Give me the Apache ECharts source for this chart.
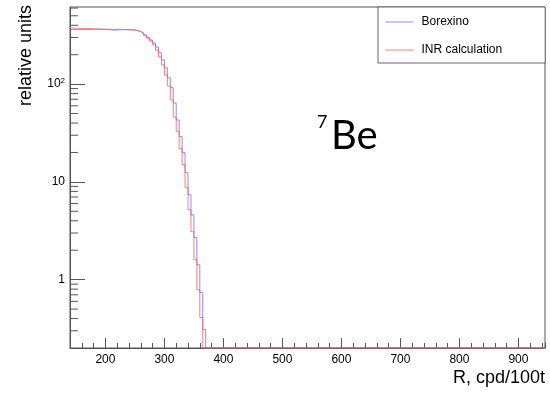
<!DOCTYPE html>
<html>
<head>
<meta charset="utf-8">
<script src="https://cdn.jsdelivr.net/npm/echarts@6/dist/echarts.min.js"></script>
<style>
  html, body { margin: 0; padding: 0; background: #fff; }
  #chart { width: 550px; height: 394px; }
</style>
</head>
<body>
<div id="chart"></div>
<script>
// Histogram binning (R, cpd/100t)
const binWidth = 5;
const firstEdge = 140;
const histUpperEdge = 945;

// Bin contents from firstEdge onward; every bin past the listed ones is empty
const borexino = [
  362, 362, 363, 362, 361, 362, 362, 364, 366, 363, 362,
  361, 360, 359, 356, 358, 360, 361, 360, 359, 358,
  358, 354, 346, 334, 318, 300, 283, 264, 240, 209,
  177, 147, 116, 92, 64, 43, 29, 19.9, 12.4, 7.4,
  4.6, 2.7, 1.42, 0.74, 0.31
];
const inrCalculation = [
  374, 373, 372, 372, 371, 370, 369, 368, 367, 367, 366,
  365, 365, 364, 363, 363, 363, 362, 362, 361, 360,
  358, 352, 343, 330, 312, 295, 275, 252, 222, 190,
  157, 124, 96, 69, 46, 33, 22, 15, 8.8, 5.2,
  3.1, 1.6, 0.79, 0.41
];

// Axis ranges and ticks
const xMin = 140, xMax = 945;
const yMin = 0.2, yMax = 615;
const yMinorTicks = [0.3, 0.4, 0.5, 0.6, 0.7, 0.8, 0.9,
                     2, 3, 4, 5, 6, 7, 8, 9,
                     20, 30, 40, 50, 60, 70, 80, 90,
                     200, 300, 400, 500, 600];

const axisColor = '#555';
const labelFont = 'Liberation Sans';
const blueLine = 'rgba(90,90,255,0.7)';
const redLine = 'rgba(255,90,90,0.8)';

// Step outline of a histogram; empty bins sit on the lower axis edge
function histogramPoints(values) {
  const pts = values.map((v, i) => [firstEdge + i * binWidth, v > 0 ? v : yMin]);
  pts.push([firstEdge + values.length * binWidth, yMin]);
  pts.push([histUpperEdge, yMin]);
  return pts;
}

function decadeLabel(value) {
  const e = Math.log10(value);
  const r = Math.round(e);
  if (Math.abs(e - r) > 1e-6) return '';
  if (r === 0) return '1';
  if (r === 1) return '10';
  return '{b|10}{s|' + r + '}';
}

const chart = echarts.init(document.getElementById('chart'), null, { renderer: 'canvas' });

chart.setOption({
  animation: false,
  backgroundColor: '#fff',
  grid: {
    left: 70, right: 5, top: 7, bottom: 46,
    show: true, borderColor: axisColor, borderWidth: 1, backgroundColor: 'transparent'
  },
  legend: {
    orient: 'vertical',
    left: 378, top: 7,
    padding: [9, 43, 7, 7],
    itemGap: 16,
    itemWidth: 28,
    itemHeight: 14,
    backgroundColor: '#fff',
    borderColor: '#666',
    borderWidth: 1,
    borderRadius: 0,
    itemStyle: { opacity: 0 },
    lineStyle: { width: 1 },
    textStyle: { fontFamily: labelFont, fontSize: 12, color: '#000', padding: [0, 0, 0, 3] },
    data: ['Borexino', 'INR calculation']
  },
  xAxis: [
    {
      type: 'value', min: xMin, max: xMax,
      minInterval: 100, maxInterval: 100,
      axisLine: { show: true, lineStyle: { color: axisColor, width: 1 } },
      axisTick: { show: true, inside: true, length: 10, lineStyle: { color: axisColor } },
      axisLabel: {
        showMinLabel: false, showMaxLabel: false, margin: 6,
        fontFamily: labelFont, fontSize: 12, color: '#000'
      },
      splitLine: { show: false }
    },
    {
      // fine ticks every 20
      type: 'value', min: xMin, max: xMax, interval: 20,
      position: 'bottom',
      axisLine: { show: false },
      axisTick: { show: true, inside: true, length: 5, lineStyle: { color: axisColor } },
      axisLabel: { show: false },
      splitLine: { show: false }
    }
  ],
  yAxis: {
    type: 'log', logBase: 10, min: yMin, max: yMax,
    axisLine: { show: true, lineStyle: { color: axisColor, width: 1 } },
    axisTick: { show: true, inside: true, length: 15, lineStyle: { color: axisColor } },
    axisLabel: {
      showMinLabel: false, showMaxLabel: false, margin: 5,
      fontFamily: labelFont, fontSize: 12, color: '#000',
      formatter: decadeLabel,
      rich: {
        b: { fontFamily: labelFont, fontSize: 12, color: '#000' },
        s: { fontFamily: labelFont, fontSize: 8, color: '#000', verticalAlign: 'top', padding: [0, 0, 7, 0] }
      }
    },
    splitLine: { show: false }
  },
  series: [
    {
      name: 'Borexino',
      type: 'line',
      step: 'end',
      symbol: 'none',
      clip: false,
      color: blueLine,
      lineStyle: { width: 1, color: blueLine },
      data: histogramPoints(borexino),
      z: 3
    },
    {
      name: 'INR calculation',
      type: 'line',
      step: 'end',
      symbol: 'none',
      clip: false,
      color: redLine,
      lineStyle: { width: 1, color: redLine },
      data: histogramPoints(inrCalculation),
      z: 4
    },
    {
      // logarithmic minor ticks on the left axis
      type: 'custom',
      silent: true,
      clip: false,
      z: 5,
      data: yMinorTicks.map(v => [xMin, v]),
      renderItem: function (params, api) {
        const p = api.coord([api.value(0), api.value(1)]);
        return {
          type: 'line',
          shape: { x1: p[0], y1: p[1], x2: p[0] + 8, y2: p[1] },
          style: { stroke: axisColor, lineWidth: 1 }
        };
      }
    }
  ],
  graphic: [
    {
      type: 'text', x: 26, y: 5, rotation: Math.PI / 2,
      style: { text: 'relative units', font: '18px "Liberation Sans"', fill: '#000', align: 'right', verticalAlign: 'middle' }
    },
    {
      type: 'text', x: 545, y: 378,
      style: { text: 'R, cpd/100t', font: '18px "Liberation Sans"', fill: '#000', align: 'right', verticalAlign: 'middle' }
    },
    {
      type: 'text', x: 317, y: 122,
      style: { text: '7', font: '18px Lato', fill: '#000', align: 'left', verticalAlign: 'middle' }
    },
    {
      type: 'text', x: 331, y: 136,
      style: { text: 'Be', font: '40px Lato', fill: '#000', align: 'left', verticalAlign: 'middle' }
    }
  ]
});
</script>
</body>
</html>
